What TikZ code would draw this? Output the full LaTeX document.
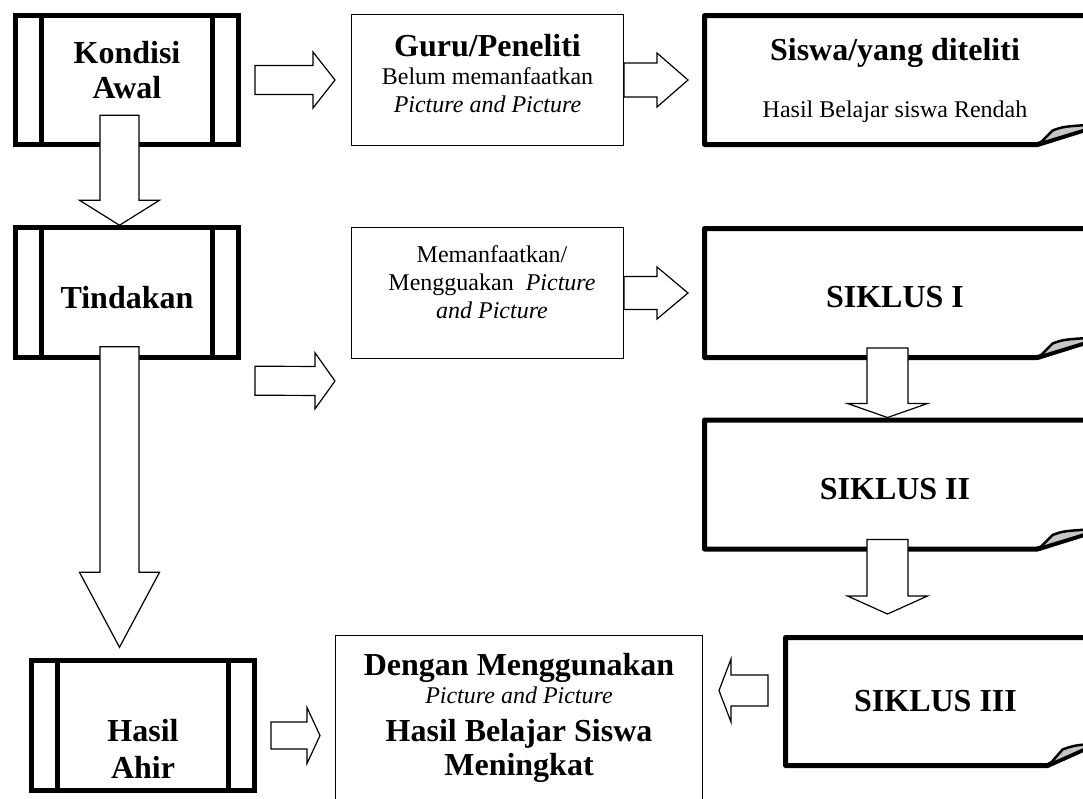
\documentclass[tikz,border=0pt]{standalone}
\usepackage{fontspec}
\setmainfont{Liberation Serif}
\usetikzlibrary{calc,positioning}

\newcommand\hd{\fontsize{32}{34}\selectfont\bfseries}

% folded corner of the heavy boxes: node, fold run, fold rise
\newcommand\foldedge[3]{%
  \pgfmathsetmacro\fdy{#3*(#2+10)/#2}
  \draw[line width=5pt, line join=round] ([xshift=10pt]#1.north east) -- (#1.north west) -- (#1.south west)
    -- ([xshift=-#2pt]#1.south east) -- ([xshift=10pt,yshift=\fdy pt]#1.south east);
  \draw[line width=2.5pt, line join=round, fill=gray!45]
    ([xshift=2pt-#2pt,yshift=1pt]#1.south east) -- ([xshift=15pt-#2pt,yshift=#3pt-1pt]#1.south east)
    .. controls ([xshift=26pt-#2pt,yshift=#3pt+3pt]#1.south east) .. ([xshift=10pt,yshift=#3pt+5pt]#1.south east)
    -- ([xshift=10pt,yshift=\fdy pt]#1.south east) -- cycle;
}

\tikzset{
  procbox/.style={draw, line width=5pt, outer sep=2.5pt, inner sep=0pt,
    minimum width=223pt, minimum height=129.5pt, font=\hd, align=center,
    path picture={
      \draw[line width=5pt] ([xshift=26pt]path picture bounding box.north west)
        -- ([xshift=26pt]path picture bounding box.south west);
      \draw[line width=5pt] ([xshift=-26pt]path picture bounding box.north east)
        -- ([xshift=-26pt]path picture bounding box.south east);}},
  plainbox/.style={draw, line width=1.3pt, outer sep=0.65pt, inner sep=0pt,
    minimum width=271.7pt, minimum height=130.7pt, align=center,
    font=\fontsize{24}{28}\selectfont},
  foldbox/.style={inner sep=0pt, outer sep=0pt, minimum width=381pt, minimum height=129pt,
    align=center, font=\fontsize{24}{28}\selectfont},
  headtext/.style={align=center, font=\fontsize{32}{35}\selectfont\bfseries},
  bodytext/.style={align=center, font=\fontsize{24}{28}\selectfont},
  % hollow block arrow: shaft half width, head half width, head length
  blockarrow/.style n args={3}{draw, line width=1.2pt, fill=white,
    to path={let \p1=(\tikztostart), \p2=(\tikztotarget), \p3=($(\p2)!#3pt!(\p1)$) in
      ($(\p1)!#1pt!90:(\p2)$) -- ($(\p3)!#1pt!-90:(\p1)$) -- ($(\p3)!#2pt!-90:(\p1)$) -- (\p2)
      -- ($(\p3)!#2pt!90:(\p1)$) -- ($(\p3)!#1pt!90:(\p1)$) -- ($(\p1)!#1pt!-90:(\p2)$) -- cycle}}
}

\begin{document}
\begin{tikzpicture}[x=1pt, y=-1pt]
    \useasboundingbox (0,0) rectangle (1083,798);
    \clip (0,0) rectangle (1083,798);

    % Left column
    \node[procbox] (kondisi) at (127,80) {};
    \node[headtext] (kondisiT) at (127,70.5) {Kondisi\\Awal};
    \node[procbox, text height=31pt, text depth=0pt] (tindakan) at (127,292.5) {Tindakan};
    \node[procbox] (hasil) at (143,725.5) {};
    \node[headtext, font=\fontsize{32}{37}\selectfont\bfseries] (hasilT) at (143,748.5) {Hasil\\Ahir};

    % Middle column
    \node[plainbox, text depth=14pt] (guru) at (487.5,80) {{\hd Guru/Peneliti}\\Belum memanfaatkan\\\textit{Picture and Picture}};
    \node[plainbox] (memanf) at (487.5,293) {};
    \node[bodytext] (memanfT) at (492,282.5) {Memanfaatkan/\\Mengguakan~ \textit{Picture}\\\textit{and Picture}};
    \node[plainbox, minimum width=366.7pt, minimum height=164.7pt, font=\fontsize{24}{34}\selectfont] (dengan) at (519,718)
        {{\hd Dengan Menggunakan}\\[-6pt]\textit{Picture and Picture}\\[4pt]{\hd Hasil Belajar Siswa}\\{\hd Meningkat}};

    % Right column
    \node[foldbox] (siswa) at (895,80) {{\hd Siswa/yang diteliti}\\[29pt]Hasil Belajar siswa Rendah};
    \node[foldbox, text height=29pt, text depth=0pt] (siklus1) at (895,293) {\hd SIKLUS I};
    \node[foldbox, text height=29pt, text depth=0pt] (siklus2) at (895,484.5) {\hd SIKLUS II};
    \node[foldbox, minimum width=300pt, minimum height=128pt] (siklus3) at (935.5,701.5) {\hd SIKLUS III};
    \foldedge{siswa}{48}{15}
    \foldedge{siklus1}{48}{15}
    \foldedge{siklus2}{48}{15}
    \foldedge{siklus3}{38}{17}

    % Block arrows
    \draw[blockarrow={14.5}{28}{22}] ([xshift=14pt]kondisi.east) to ([xshift=-16pt]guru.west);
    \draw[blockarrow={17}{27}{31}] (guru.east) to ([xshift=-16.5pt]siswa.west);
    \draw[blockarrow={19.5}{40}{25}] ([xshift=-7.5pt,yshift=32pt]kondisi.south) to ([xshift=-7.5pt]tindakan.north);
    \draw[blockarrow={14.5}{28}{20}] ([xshift=14pt,yshift=-21pt]tindakan.south east) to ([xshift=-16pt,yshift=-22pt]memanf.south west);
    \draw[blockarrow={16.5}{26}{31}] (memanf.east) to ([xshift=-16.5pt]siklus1.west);
    \draw[blockarrow={19.5}{40}{75}] ([xshift=-7.5pt,yshift=13pt]tindakan.south) to ([xshift=-23.5pt,yshift=11pt]hasil.north);
    \draw[blockarrow={20.5}{40}{14}] ([xshift=-7.5pt,yshift=9.5pt]siklus1.south) to ([xshift=-7.5pt,yshift=2.5pt]siklus2.north);
    \draw[blockarrow={20.5}{40}{18}] ([xshift=-7.5pt,yshift=9.5pt]siklus2.south) to ([xshift=-48pt,yshift=23.5pt]siklus3.north);
    \draw[blockarrow={15.5}{31.5}{12}] ([xshift=-17.5pt,yshift=11pt]siklus3.west) to ([xshift=16pt,yshift=27.5pt]dengan.east);
    \draw[blockarrow={13.5}{28}{13}] ([xshift=14pt,yshift=-10pt]hasil.east) to ([xshift=-15pt,yshift=-17.5pt]dengan.west);
\end{tikzpicture}
\end{document}
